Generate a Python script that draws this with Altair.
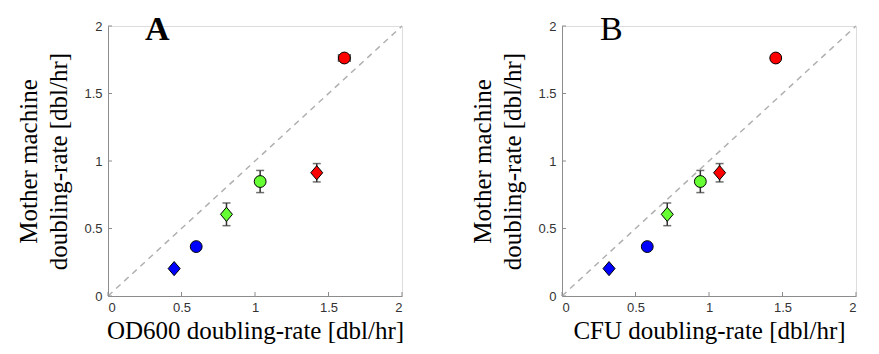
import altair as alt
import pandas as pd

# ---- data ----
conditions = ["blue diamond", "blue circle", "green diamond", "green circle", "red diamond", "red circle"]
shapes = ["diamond", "circle", "diamond", "circle", "diamond", "circle"]
colors = ["#0000ff", "#0000ff", "#66ff33", "#66ff33", "#ff0000", "#ff0000"]
mm_rate = [0.203, 0.366, 0.605, 0.848, 0.913, 1.763]
mm_err = [0.02, 0.02, 0.084, 0.082, 0.068, 0.02]
od_rate = [0.45, 0.60, 0.806, 1.035, 1.42, 1.608]
od_err = [0.0, 0.0, 0.0, 0.0, 0.0, 0.04]
cfu_rate = [0.32, 0.58, 0.716, 0.941, 1.072, 1.454]
cfu_err = [0.0, 0.0, 0.0, 0.0, 0.0, 0.0]
tick_values = [0, 0.5, 1, 1.5, 2]
diag_x = [0, 2]
diag_y = [0, 2]

W, H = 294, 270
SERIF = "Liberation Serif"
SANS = "Liberation Sans"
DIAMOND = "M0,-1L0.85,0L0,1L-0.85,0Z"


def panel(xrate, xerr, xtitle, letter, bold):
    df = pd.DataFrame({
        "cond": conditions, "shape": shapes, "color": colors,
        "x": xrate, "xerr": xerr, "y": mm_rate, "yerr": mm_err,
    })
    df["ylo"] = df["y"] - df["yerr"]
    df["yhi"] = df["y"] + df["yerr"]
    df["xlo"] = df["x"] - df["xerr"]
    df["xhi"] = df["x"] + df["xerr"]

    xs = alt.Scale(domain=[0, 2], nice=False)
    ys = alt.Scale(domain=[0, 2], nice=False)
    xax = alt.Axis(values=tick_values, format="~g", title=xtitle, grid=False,
                   ticks=False, tickSize=0, labelPadding=5,
                   domainColor="#8c8c8c", labelColor="#333333",
                   labelFont=SANS, labelFontSize=13,
                   titleFont=SERIF, titleFontSize=25, titleFontWeight="normal",
                   titleColor="black", titlePadding=4)
    yax = alt.Axis(values=tick_values, format="~g",
                   title=["Mother machine", "doubling-rate [dbl/hr]"], grid=False,
                   ticks=False, tickSize=0, labelPadding=6,
                   domainColor="#8c8c8c", labelColor="#333333",
                   labelFont=SANS, labelFontSize=13,
                   titleFont=SERIF, titleFontSize=25, titleFontWeight="normal",
                   titleColor="black", titlePadding=12, titleLineHeight=30)

    base = alt.Chart(df)

    diag = alt.Chart(pd.DataFrame({"x": diag_x, "y": diag_y})).mark_line(
        color="#b0b0b0", strokeDash=[6, 5], strokeWidth=1.5
    ).encode(x=alt.X("x:Q", scale=xs, axis=xax), y=alt.Y("y:Q", scale=ys, axis=yax))

    vrule = base.transform_filter("datum.yerr > 0").mark_rule(
        color="#333333", strokeWidth=1.5
    ).encode(x="x:Q", y="ylo:Q", y2="yhi:Q")
    vcaps = base.transform_filter("datum.yerr > 0").transform_fold(
        ["ylo", "yhi"], as_=["end", "yv"]
    ).mark_tick(orient="horizontal", size=8, thickness=1.5, color="#333333").encode(
        x="x:Q", y="yv:Q")

    hrule = base.transform_filter("datum.xerr > 0").mark_rule(
        color="#333333", strokeWidth=1.5
    ).encode(x="xlo:Q", x2="xhi:Q", y="y:Q")
    hcaps = base.transform_filter("datum.xerr > 0").transform_fold(
        ["xlo", "xhi"], as_=["end", "xv"]
    ).mark_tick(orient="vertical", size=8, thickness=1.5, color="#333333").encode(
        x="xv:Q", y="y:Q")

    circles = base.transform_filter("datum.shape == 'circle'").mark_point(
        shape="circle", size=140, filled=True, stroke="black", strokeWidth=1, opacity=1
    ).encode(x="x:Q", y="y:Q", fill=alt.Fill("color:N", scale=None))
    diamonds = base.transform_filter("datum.shape == 'diamond'").mark_point(
        shape=DIAMOND, size=200, filled=True, stroke="black", strokeWidth=1, opacity=1
    ).encode(x="x:Q", y="y:Q", fill=alt.Fill("color:N", scale=None))

    xt = alt.Chart(pd.DataFrame({"v": tick_values})).mark_rule(
        color="#8c8c8c", strokeWidth=1
    ).encode(x="v:Q", y=alt.value(H), y2=alt.value(H - 4))
    yt = alt.Chart(pd.DataFrame({"v": tick_values})).mark_rule(
        color="#8c8c8c", strokeWidth=1
    ).encode(y="v:Q", x=alt.value(0), x2=alt.value(4))

    txt = alt.Chart(pd.DataFrame({"x": [0.335], "y": [1.90], "t": [letter]})).mark_text(
        font=SERIF, fontSize=34, fontWeight="bold" if bold else "normal",
        align="center", baseline="alphabetic", color="black"
    ).encode(x="x:Q", y="y:Q", text="t:N")

    return alt.layer(diag, xt, yt, vrule, vcaps, hrule, hcaps, circles, diamonds, txt).properties(
        width=W, height=H)


a = panel(od_rate, od_err, "OD600 doubling-rate [dbl/hr]", "A", True)
b = panel(cfu_rate, cfu_err, "CFU doubling-rate [dbl/hr]", "B", False)

chart = alt.hconcat(a, b, spacing=160, bounds="flush").properties(
    padding={"left": 8, "top": 4, "right": 5, "bottom": 0}
).configure_view(stroke=None).configure(background="white")

chart.save("out.html", embed_options={"renderer": "svg", "actions": False})
